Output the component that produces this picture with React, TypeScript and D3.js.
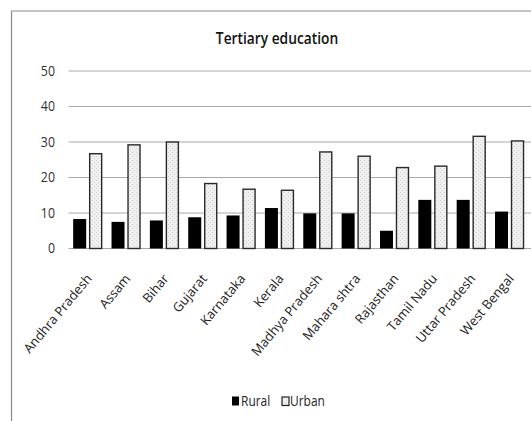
import React from "react";
import * as d3 from "d3";

const categories = ["Andhra Pradesh", "Assam", "Bihar", "Gujarat", "Karnataka", "Kerala", "Madhya Pradesh", "Mahara shtra", "Rajasthan", "Tamil Nadu", "Uttar Pradesh", "West Bengal"];
const rural = [8.3, 7.5, 7.9, 8.8, 9.3, 11.4, 9.9, 9.9, 5.0, 13.7, 13.7, 10.4];
const urban = [26.7, 29.2, 30.0, 18.3, 16.7, 16.4, 27.2, 26.0, 22.8, 23.2, 31.6, 30.3];
const yTicks = [0, 10, 20, 30, 40, 50];
const seriesNames = ["Rural", "Urban"];

const W = 531, H = 421;
const FONT = "'Open Sans', 'DejaVu Sans Condensed', sans-serif";

export default function App() {
  const x = d3.scaleBand<string>().domain(categories).range([68.5, 528.7]).paddingInner(0).paddingOuter(0);
  const y = d3.scaleLinear().domain([0, 50]).range([248.5, 71]);
  const barW = 13;
  const gap = 3;

  return (
    <svg width={W} height={H} style={{ position: "absolute", left: 0, top: 0, background: "#fff" }}>
      <defs>
        <pattern id="stip" width="4" height="4" patternUnits="userSpaceOnUse">
          <rect width="4" height="4" fill="#efefef" />
          <rect x="0" y="0" width="1" height="1" fill="#d4d4d4" />
          <rect x="2" y="2" width="1" height="1" fill="#dadada" />
        </pattern>
      </defs>
      <rect x={0} y={0} width={W} height={H} fill="#fff" />
      <line x1={11.5} y1={11} x2={W} y2={11} stroke="#8a8a8a" strokeWidth={1.2} />
      <line x1={11.5} y1={11} x2={11.5} y2={H} stroke="#8a8a8a" strokeWidth={1.2} />
      <text x={277} y={44} textAnchor="middle" fontFamily={FONT} fontSize={14.5} fontWeight={600} fill="#111"
        transform="translate(277,44) scale(0.95,1.1) translate(-277,-44)">Tertiary education</text>
      {yTicks.map((t) => (
        <g key={t}>
          <line x1={68.5} x2={W} y1={y(t)} y2={y(t)} stroke="#a8a8a8" strokeWidth={1} />
          <text x={55} y={y(t) + 5} textAnchor="end" fontFamily={FONT} fontSize={13} fill="#333"
            transform={`translate(55,${y(t) + 5}) scale(0.95,1.12) translate(-55,${-(y(t) + 5)})`}>{t}</text>
        </g>
      ))}
      {categories.map((c, i) => {
        const cx = (x(c) as number) + x.bandwidth() / 2;
        return (
          <g key={c}>
            <rect x={cx - gap / 2 - barW} y={y(rural[i])} width={barW} height={y(0) - y(rural[i])} fill="#000" />
            <rect x={cx + gap / 2 + 0.5} y={y(urban[i])} width={barW - 1} height={y(0) - y(urban[i])} fill="url(#stip)" stroke="#2a2a2a" strokeWidth={1.4} />
            <text transform={`translate(${cx + 5},${279}) rotate(-50)`} textAnchor="end" fontFamily={FONT} fontSize={13} fill="#222">{c}</text>
          </g>
        );
      })}
      <g transform="translate(232,406)">
        <rect x={0} y={-9.5} width={7} height={9} fill="#000" />
        <g transform="translate(9,0) scale(0.92,1.12)">
          <text x={0} y={0} fontFamily={FONT} fontSize={13} fill="#222">{seriesNames[0]}</text>
        </g>
        <rect x={50} y={-9} width={7} height={8.5} fill="url(#stip)" stroke="#222" strokeWidth={1.2} />
        <g transform="translate(58,0) scale(0.92,1.12)">
          <text x={0} y={0} fontFamily={FONT} fontSize={13} fill="#222">{seriesNames[1]}</text>
        </g>
      </g>
    </svg>
  );
}
